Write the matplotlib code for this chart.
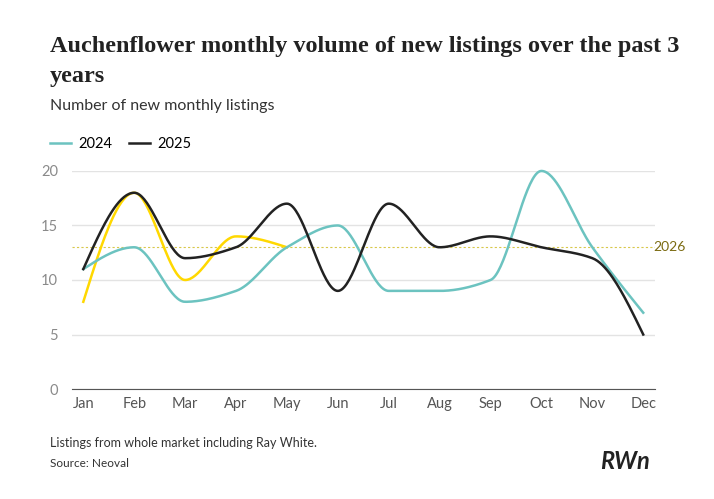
import numpy as np
import matplotlib.pyplot as plt

months = ["Jan", "Feb", "Mar", "Apr", "May", "Jun", "Jul", "Aug", "Sep", "Oct", "Nov", "Dec"]
listings_2024 = [11, 13, 8, 9, 13, 15, 9, 9, 10, 20, 13, 7]
listings_2025 = [11, 18, 12, 13, 17, 9, 17, 13, 14, 13, 12, 5]
listings_2026 = [8, 18, 10, 14, 13]
avg_2026 = 13


def monotone(y, n=40):
    """Monotone cubic (like d3 curveMonotoneX) through equally spaced points."""
    y = np.asarray(y, dtype=float)
    x = np.arange(len(y), dtype=float)
    d = np.diff(y)
    m = np.zeros(len(y))
    for i in range(1, len(y) - 1):
        if d[i - 1] * d[i] > 0:
            m[i] = 2 * d[i - 1] * d[i] / (d[i - 1] + d[i])
    m[0] = 1.5 * d[0] - 0.5 * m[1] if len(y) > 2 else d[0]
    m[-1] = 1.5 * d[-1] - 0.5 * m[-2] if len(y) > 2 else d[-1]
    xs, ys = [], []
    for i in range(len(y) - 1):
        t = np.linspace(0, 1, n, endpoint=False)
        h00 = 2 * t**3 - 3 * t**2 + 1
        h10 = t**3 - 2 * t**2 + t
        h01 = -2 * t**3 + 3 * t**2
        h11 = t**3 - t**2
        xs.append(x[i] + t)
        ys.append(h00 * y[i] + h10 * m[i] + h01 * y[i + 1] + h11 * m[i + 1])
    xs.append([x[-1]])
    ys.append([y[-1]])
    return np.concatenate(xs), np.concatenate(ys)


plt.rcParams['font.family'] = ['Lato', 'DejaVu Sans']

fig = plt.figure(figsize=(7.14, 4.99), dpi=100)
ax = fig.add_axes([0.101, 0.2204, 0.817, 0.437])

ax.axhline(avg_2026, color="#d8c84a", lw=0.8, ls=(0, (2, 2)), zorder=1)
ax.text(11.2, avg_2026, "2026", color="#7a6a10", fontsize=10, va="center", ha="left")

ax.plot(*monotone(listings_2026), color="#ffd800", lw=1.8, zorder=2, clip_on=False)
ax.plot(*monotone(listings_2024), color="#6cc3c0", lw=1.8, label="2024", zorder=3, clip_on=False)
ax.plot(*monotone(listings_2025), color="#222222", lw=1.8, label="2025", zorder=4, clip_on=False)

ax.set_xlim(-0.22, 11.24)
ax.set_ylim(0, 20)
ax.set_yticks([0, 5, 10, 15, 20])
ax.set_xticks(range(12))
ax.set_xticklabels(months)
ax.grid(axis="y", color="#e3e3e3", lw=1)
ax.set_axisbelow(True)
for s in ["top", "right", "left"]:
    ax.spines[s].set_visible(False)
ax.spines["bottom"].set_color("#555555")
ax.tick_params(axis="both", length=0, labelsize=10.5, colors="#8a8a8a", pad=6)
ax.tick_params(axis="x", colors="#555555")
ax.yaxis.set_tick_params(pad=10)

ax.legend(loc="lower left", bbox_to_anchor=(-0.06, 1.03), ncol=2, frameon=False,
          fontsize=10.5, handlelength=1.4, columnspacing=1.2, handletextpad=0.5)

fig.text(0.07, 0.895, "Auchenflower monthly volume of new listings over the past 3",
         fontsize=17.5, fontweight="bold", family=["Liberation Serif", "DejaVu Serif"], color="#222222")
fig.text(0.07, 0.835, "years", fontsize=17.5, fontweight="bold",
         family=["Liberation Serif", "DejaVu Serif"], color="#222222")
fig.text(0.07, 0.78, "Number of new monthly listings", fontsize=11.5, color="#333333")
fig.text(0.07, 0.105, "Listings from whole market including Ray White.", fontsize=9, color="#333333")
fig.text(0.07, 0.065, "Source: Neoval", fontsize=8.5, color="#333333")
fig.text(0.91, 0.06, "RWn", fontsize=17, fontweight="bold", style="italic", color="#222222", ha="right")

fig.savefig("out.png", dpi=100)
